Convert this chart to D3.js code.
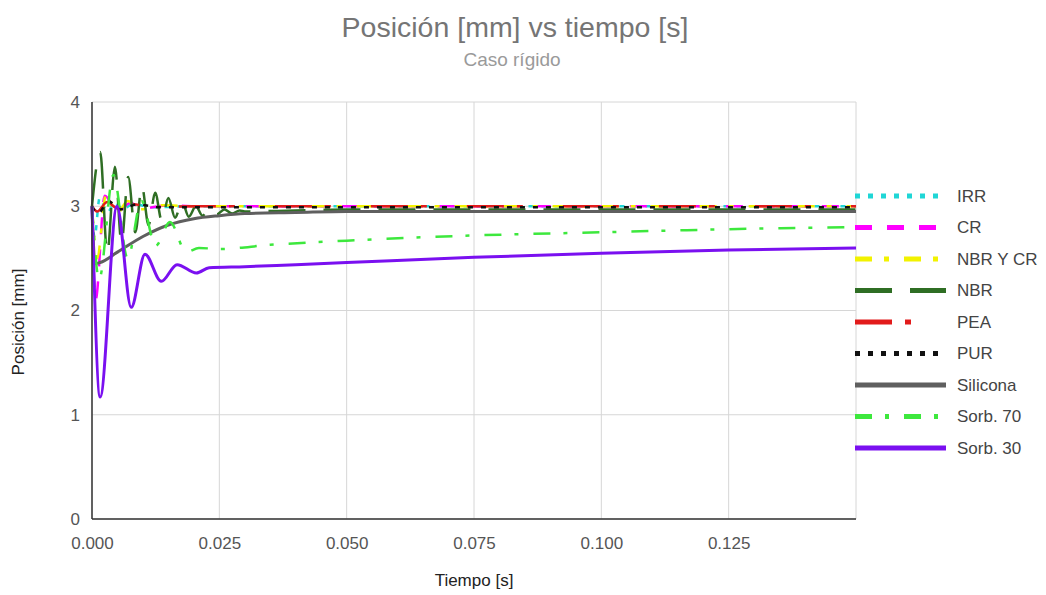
<!DOCTYPE html>
<html>
<head>
<meta charset="utf-8">
<script src="https://cdn.jsdelivr.net/npm/d3@7"></script>
<style>
  body { margin: 0; background: #fff; }
  svg { font-family: "Liberation Sans", Arial, sans-serif; }
</style>
</head>
<body>
<main></main>
<script>
// Posición vs tiempo - caso rígido

// Series (time in s, position in mm)
const tIRR = [0, 0.0005, 0.0015, 0.003, 0.0045, 0.006, 0.008, 0.012, 0.02, 0.15];
const yIRR = [3.0, 2.7, 3.08, 2.94, 3.04, 2.97, 3.02, 2.99, 3.0, 3.0];

const tCR = [0, 0.0007, 0.0025, 0.005, 0.0075, 0.01, 0.015, 0.02, 0.15];
const yCR = [3.0, 2.1, 3.1, 2.95, 3.03, 2.98, 3.01, 3.0, 3.0];

const tNBRyCR = [0, 0.001, 0.0028, 0.0048, 0.007, 0.0095, 0.014, 0.02, 0.15];
const yNBRyCR = [3.0, 2.5, 3.12, 2.92, 3.05, 2.97, 3.01, 3.0, 3.0];

const tNBR = [0, 0.0016, 0.003, 0.0045, 0.0058, 0.0071, 0.0085, 0.0098, 0.0111, 0.0124, 0.0137, 0.015,
  0.0163, 0.0177, 0.019, 0.0204, 0.0217, 0.023, 0.0245, 0.026, 0.0275, 0.029, 0.03, 0.04, 0.05, 0.075, 0.1, 0.125, 0.15];
const yNBR = [3.0, 3.52, 2.55, 3.38, 2.65, 3.28, 2.75, 3.19, 2.82, 3.13, 2.86, 3.08,
  2.89, 3.04, 2.9, 3.0, 2.91, 2.98, 2.92, 2.97, 2.93, 2.96, 2.95, 2.96, 2.97, 2.97, 2.97, 2.97, 2.97];

const tPEA = [0, 0.001, 0.003, 0.005, 0.008, 0.012, 0.02, 0.15];
const yPEA = [3.0, 2.95, 3.04, 2.98, 3.02, 2.99, 3.0, 3.0];

const tPUR = [0, 0.0012, 0.0032, 0.0055, 0.009, 0.013, 0.02, 0.15];
const yPUR = [3.0, 2.93, 3.05, 2.97, 3.02, 2.99, 2.99, 2.99];

const tSilicona = [0, 0.0006, 0.0016, 0.005, 0.01, 0.015, 0.02, 0.025, 0.03, 0.04, 0.05, 0.075, 0.1, 0.125, 0.15];
const ySilicona = [3.0, 2.45, 2.46, 2.56, 2.71, 2.82, 2.88, 2.91, 2.93, 2.94, 2.95, 2.95, 2.95, 2.95, 2.95];

const tSorb70 = [0, 0.0014, 0.0042, 0.007, 0.0097, 0.0125, 0.0153, 0.0185, 0.021, 0.025, 0.035, 0.05, 0.075, 0.1, 0.125, 0.15];
const ySorb70 = [3.0, 2.3, 3.3, 2.5, 3.05, 2.62, 2.85, 2.56, 2.6, 2.59, 2.63, 2.67, 2.72, 2.75, 2.78, 2.8];

const tSorb30 = [0, 0.0016, 0.0049, 0.0077, 0.0104, 0.0136, 0.0167, 0.0205, 0.023, 0.03, 0.04, 0.05, 0.075, 0.1, 0.125, 0.15];
const ySorb30 = [3.0, 1.17, 3.0, 2.03, 2.54, 2.28, 2.44, 2.36, 2.41, 2.42, 2.44, 2.46, 2.51, 2.55, 2.58, 2.6];

const xTicks = [0, 0.025, 0.05, 0.075, 0.1, 0.125];
const xGrid = [0, 0.025, 0.05, 0.075, 0.1, 0.125, 0.15];
const yTicks = [0, 1, 2, 3, 4];

const series = [
  { name: "IRR", t: tIRR, y: yIRR, color: "#1fd6d6", dash: "5,8" },
  { name: "CR", t: tCR, y: yCR, color: "#ff00ff", dash: "17,15" },
  { name: "NBR Y CR", t: tNBRyCR, y: yNBRyCR, color: "#f2f200", dash: "17,12,5,15" },
  { name: "NBR", t: tNBR, y: yNBR, color: "#2f6e24", dash: "37,18" },
  { name: "PEA", t: tPEA, y: yPEA, color: "#e21b1b", dash: "37,13,6,40" },
  { name: "PUR", t: tPUR, y: yPUR, color: "#111111", dash: "5,8" },
  { name: "Silicona", t: tSilicona, y: ySilicona, color: "#5f5f5f", dash: null },
  { name: "Sorb. 70", t: tSorb70, y: ySorb70, color: "#3de83d", dash: "17,13,4,15" },
  { name: "Sorb. 30", t: tSorb30, y: ySorb30, color: "#7a10f0", dash: null }
];

document.addEventListener('DOMContentLoaded', function(){

  const w = 1046;
  const h = 595;
  const left = 92, right = 856, top = 102, bottom = 519;

  const svg = d3.select("main")
                .append("svg")
                .attr("width", w)
                .attr("height", h);

  const xScale = d3.scaleLinear().domain([0, 0.15]).range([left, right]);
  const yScale = d3.scaleLinear().domain([0, 4]).range([bottom, top]);

  //Title
  svg.append("text")
     .attr("x", 515).attr("y", 37)
     .attr("text-anchor", "middle")
     .attr("font-size", 28.5)
     .attr("fill", "#757575")
     .text("Posición [mm] vs tiempo [s]");

  svg.append("text")
     .attr("x", 512).attr("y", 66)
     .attr("text-anchor", "middle")
     .attr("font-size", 19)
     .attr("fill", "#9a9a9a")
     .text("Caso rígido");

  //Grid
  svg.append("g")
     .selectAll("line")
     .data(xGrid)
     .enter().append("line")
     .attr("x1", d => xScale(d)).attr("x2", d => xScale(d))
     .attr("y1", top).attr("y2", bottom)
     .attr("stroke", "#d6d6d6");

  svg.append("g")
     .selectAll("line")
     .data(yTicks)
     .enter().append("line")
     .attr("x1", left).attr("x2", right)
     .attr("y1", d => yScale(d)).attr("y2", d => yScale(d))
     .attr("stroke", "#d6d6d6");

  //Axes
  const x_axis = d3.axisBottom(xScale)
                   .tickValues(xTicks)
                   .tickFormat(d3.format(".3f"))
                   .tickSize(0)
                   .tickPadding(18);
  const y_axis = d3.axisLeft(yScale)
                   .tickValues(yTicks)
                   .tickFormat(d3.format("d"))
                   .tickSize(0)
                   .tickPadding(12);

  const gx = svg.append("g")
     .attr("transform", "translate(0," + bottom + ")")
     .call(x_axis);
  const gy = svg.append("g")
     .attr("transform", "translate(" + left + ",0)")
     .call(y_axis);

  [gx, gy].forEach(g => {
    g.select(".domain").remove();
    g.selectAll("text")
     .attr("font-size", 17)
     .attr("font-family", "Liberation Sans, Arial, sans-serif")
     .attr("fill", "#555");
  });

  //Lines
  const line = d3.line()
                 .x(d => xScale(d[0]))
                 .y(d => yScale(d[1]))
                 .curve(d3.curveMonotoneX);

  svg.append("g")
     .selectAll("path")
     .data(series)
     .enter().append("path")
     .attr("d", s => line(d3.zip(s.t, s.y)))
     .attr("fill", "none")
     .attr("stroke", s => s.color)
     .attr("stroke-width", s => s.dash ? 2.5 : 3)
     .attr("stroke-dasharray", s => s.dash)
     .attr("stroke-linejoin", "round");

  //Baselines
  svg.append("line")
     .attr("x1", left).attr("x2", right)
     .attr("y1", bottom).attr("y2", bottom)
     .attr("stroke", "#333").attr("stroke-width", 1.5);
  svg.append("line")
     .attr("x1", left).attr("x2", left)
     .attr("y1", top).attr("y2", bottom)
     .attr("stroke", "#333").attr("stroke-width", 1.5);

  //Axis titles
  svg.append("text")
     .attr("x", 474).attr("y", 586)
     .attr("text-anchor", "middle")
     .attr("font-size", 17)
     .attr("fill", "#222")
     .text("Tiempo [s]");

  svg.append("text")
     .attr("transform", "translate(24,322) rotate(-90)")
     .attr("text-anchor", "middle")
     .attr("font-size", 17)
     .attr("fill", "#222")
     .text("Posición [mm]");

  //Legend
  const legend = svg.append("g")
                    .selectAll("g")
                    .data(series)
                    .enter().append("g")
                    .attr("transform", (d, i) => "translate(855," + (196 + i * 31.5) + ")");

  legend.append("line")
        .attr("x1", 0).attr("x2", 91)
        .attr("stroke", d => d.color)
        .attr("stroke-width", 5)
        .attr("stroke-dasharray", d => d.dash);

  legend.append("text")
        .attr("x", 102).attr("dy", "0.35em")
        .attr("font-size", 17)
        .attr("fill", "#444")
        .text(d => d.name);
});
</script>
</body>
</html>
